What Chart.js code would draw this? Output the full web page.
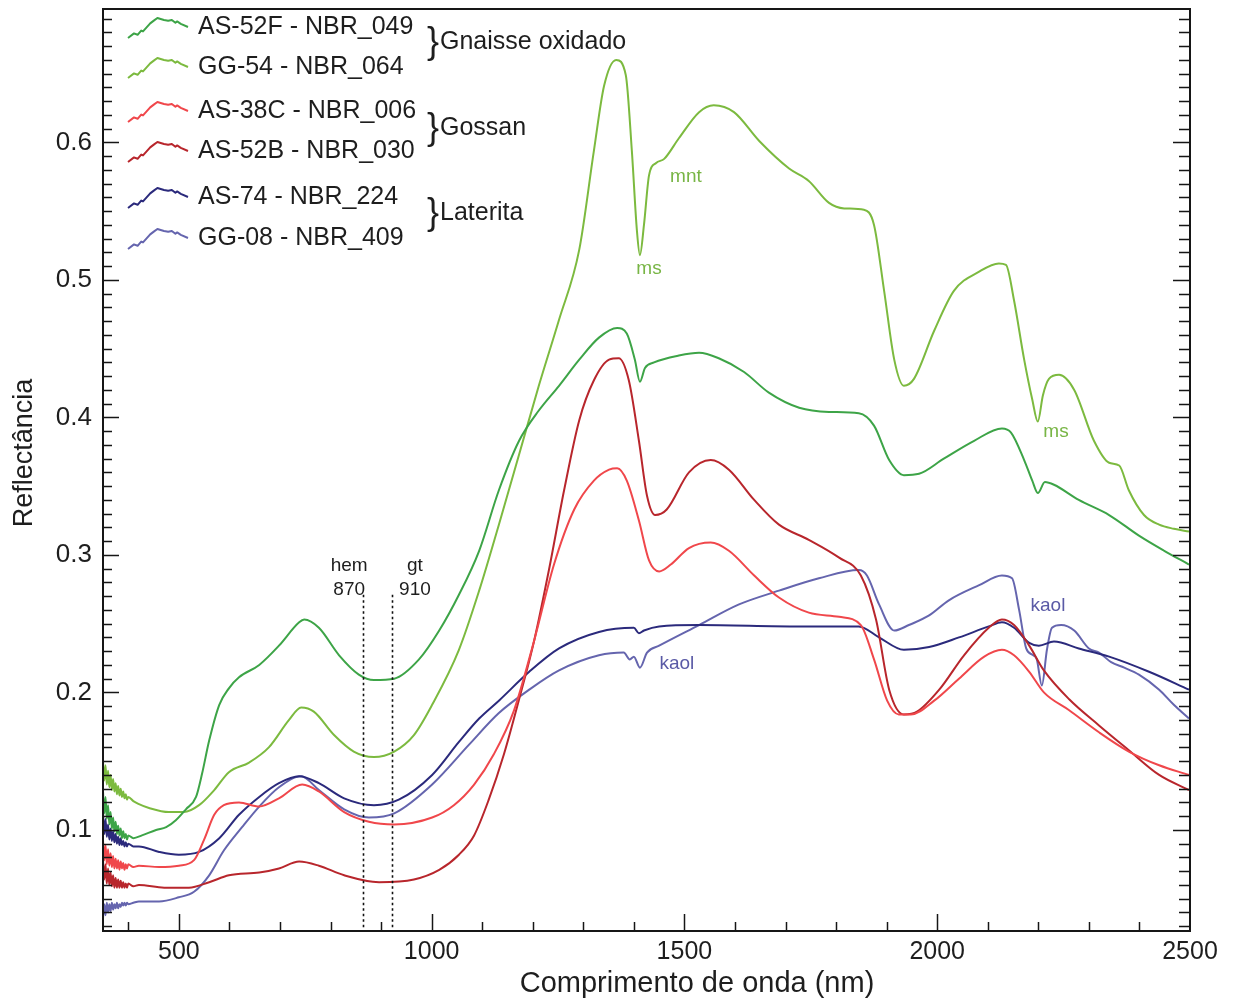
<!DOCTYPE html>
<html><head><meta charset="utf-8">
<script src="https://cdn.jsdelivr.net/npm/chart.js@4.4.0/dist/chart.umd.min.js"></script>
<style>html,body{margin:0;padding:0;background:#fff}#wrap{width:1237px;height:1001px}</style>
</head><body><div id="wrap"><canvas id="c" width="1237" height="1001"></canvas></div>
<script>
// ---------- DATA ----------
const seriesNames = ['AS-52F - NBR_049','GG-54 - NBR_064','AS-38C - NBR_006','AS-52B - NBR_030','AS-74 - NBR_224','GG-08 - NBR_409'];
const groupLabels = ['Gnaisse oxidado','Gossan','Laterita'];
const xTickValues = [500,1000,1500,2000,2500];
const yTickValues = [0.1,0.2,0.3,0.4,0.5,0.6];

// noisy start of every spectrum (350-400 nm, 2.5 nm step)
const startNm = [350,352.5,355,357.5,360,362.5,365,367.5,370,372.5,375,377.5,380,382.5,385,387.5,390,392.5,395,397.5,400,410];

// AS-52F - NBR_049
const as52f_start = [0.128,0.112,0.124,0.108,0.118,0.104,0.113,0.101,0.109,0.099,0.106,0.097,0.103,0.096,0.101,0.094,0.099,0.094,0.097,0.093,0.096,0.094];
const as52f_nm = [427,455,475,494,514,534,546,560,580,599,619,659,698,738,748,777,817,856,886,926,975,1015,1054,1094,1133,1173,1212,1252,1292,1331,1367,1386,1402,1412,1422,1440,1489,1529,1568,1618,1667,1727,1786,1845,1875,1905,1934,1964,2013,2073,2128,2146,2172,2188,2199,2213,2231,2280,2340,2399,2449,2498];
const as52f_r  = [0.096,0.100,0.102,0.107,0.115,0.124,0.141,0.165,0.191,0.203,0.211,0.220,0.234,0.251,0.253,0.247,0.227,0.213,0.209,0.210,0.224,0.245,0.271,0.303,0.347,0.383,0.405,0.423,0.442,0.458,0.465,0.461,0.442,0.426,0.436,0.440,0.445,0.447,0.443,0.433,0.418,0.407,0.404,0.403,0.394,0.369,0.358,0.359,0.370,0.383,0.392,0.389,0.369,0.354,0.345,0.353,0.351,0.340,0.329,0.314,0.303,0.293];

// GG-54 - NBR_064
const gg54_start = [0.150,0.136,0.147,0.133,0.143,0.131,0.140,0.129,0.137,0.128,0.134,0.126,0.132,0.125,0.130,0.124,0.128,0.123,0.126,0.122,0.124,0.121];
const gg54_nm = [420,441,480,510,540,570,599,639,678,718,742,767,807,846,886,926,965,1001,1054,1094,1133,1173,1212,1252,1292,1321,1341,1365,1384,1396,1406,1412,1420,1430,1444,1460,1489,1529,1558,1598,1648,1707,1746,1786,1816,1855,1875,1895,1915,1934,1954,1994,2033,2083,2122,2136,2152,2172,2188,2199,2209,2221,2241,2271,2310,2340,2360,2379,2409,2439,2468,2498];
const gg54_r  = [0.119,0.116,0.113,0.113,0.118,0.129,0.142,0.149,0.160,0.180,0.189,0.186,0.169,0.157,0.153,0.157,0.169,0.191,0.231,0.274,0.322,0.373,0.423,0.471,0.522,0.594,0.641,0.660,0.649,0.594,0.536,0.518,0.540,0.576,0.585,0.588,0.603,0.622,0.627,0.622,0.601,0.581,0.572,0.556,0.552,0.551,0.540,0.492,0.442,0.423,0.428,0.463,0.492,0.506,0.512,0.511,0.485,0.442,0.413,0.397,0.416,0.428,0.431,0.420,0.383,0.367,0.365,0.347,0.329,0.322,0.319,0.317];

// AS-38C - NBR_006
const as38c_start = [0.092,0.078,0.089,0.075,0.086,0.074,0.083,0.073,0.081,0.072,0.079,0.072,0.078,0.071,0.077,0.072,0.076,0.071,0.075,0.072,0.075,0.073];
const as38c_nm = [421,461,500,530,550,570,589,619,659,698,744,777,827,876,926,1001,1044,1084,1123,1163,1203,1242,1282,1321,1351,1367,1386,1410,1430,1450,1473,1509,1552,1588,1638,1687,1746,1806,1849,1875,1901,1924,1948,1994,2043,2093,2128,2152,2182,2211,2261,2320,2379,2439,2498];
const as38c_r  = [0.074,0.073,0.074,0.078,0.093,0.111,0.118,0.120,0.117,0.123,0.133,0.128,0.113,0.106,0.104,0.109,0.118,0.133,0.155,0.187,0.238,0.293,0.333,0.354,0.362,0.363,0.354,0.325,0.296,0.288,0.293,0.305,0.309,0.303,0.285,0.269,0.258,0.255,0.249,0.224,0.194,0.184,0.184,0.194,0.210,0.226,0.231,0.227,0.215,0.200,0.187,0.171,0.157,0.147,0.140];

// AS-52B - NBR_030
const as52b_start = [0.078,0.064,0.075,0.061,0.072,0.060,0.069,0.059,0.067,0.058,0.065,0.058,0.064,0.058,0.063,0.058,0.062,0.058,0.061,0.058,0.061,0.059];
const as52b_nm = [421,471,520,560,599,659,698,738,777,827,896,965,1015,1054,1084,1113,1143,1173,1203,1232,1262,1292,1321,1351,1370,1390,1410,1426,1442,1465,1509,1552,1588,1638,1687,1746,1806,1849,1879,1905,1934,1960,2004,2053,2102,2128,2152,2182,2211,2261,2320,2379,2439,2498];
const as52b_r  = [0.060,0.058,0.058,0.062,0.067,0.069,0.072,0.077,0.074,0.067,0.062,0.064,0.071,0.082,0.096,0.122,0.155,0.195,0.238,0.289,0.347,0.398,0.427,0.442,0.443,0.427,0.383,0.343,0.329,0.333,0.360,0.369,0.362,0.340,0.322,0.311,0.298,0.285,0.253,0.202,0.184,0.186,0.202,0.227,0.247,0.253,0.249,0.234,0.216,0.195,0.176,0.158,0.140,0.129];

// AS-74 - NBR_224
const as74_start = [0.112,0.097,0.108,0.095,0.104,0.093,0.101,0.092,0.099,0.091,0.097,0.090,0.095,0.089,0.094,0.089,0.092,0.088,0.091,0.088,0.090,0.088];
const as74_nm = [421,461,500,540,580,619,659,698,738,777,827,886,935,1001,1054,1094,1133,1193,1252,1331,1400,1410,1420,1450,1529,1727,1845,1885,1934,1984,2043,2102,2128,2152,2182,2201,2231,2280,2340,2419,2498];
const as74_r  = [0.088,0.084,0.082,0.084,0.094,0.111,0.124,0.134,0.139,0.134,0.123,0.118,0.122,0.140,0.164,0.181,0.194,0.215,0.232,0.244,0.247,0.243,0.245,0.248,0.249,0.248,0.248,0.240,0.231,0.233,0.240,0.248,0.251,0.247,0.236,0.234,0.237,0.232,0.226,0.215,0.202];

// GG-08 - NBR_409
const gg08_start = [0.036,0.046,0.038,0.047,0.040,0.046,0.041,0.047,0.042,0.046,0.043,0.047,0.043,0.046,0.044,0.047,0.045,0.047,0.045,0.047,0.046,0.047];
const gg08_nm = [421,461,500,530,560,589,625,659,698,742,777,827,876,926,1001,1074,1133,1193,1252,1331,1380,1392,1400,1412,1426,1450,1529,1608,1687,1766,1845,1861,1885,1915,1944,1984,2023,2083,2128,2148,2162,2176,2190,2197,2207,2217,2227,2245,2271,2300,2320,2344,2370,2399,2439,2468,2498];
const gg08_r  = [0.048,0.048,0.051,0.055,0.067,0.085,0.102,0.117,0.131,0.139,0.129,0.115,0.109,0.112,0.133,0.162,0.185,0.202,0.216,0.227,0.229,0.224,0.226,0.218,0.229,0.234,0.249,0.264,0.274,0.283,0.289,0.285,0.264,0.245,0.249,0.256,0.267,0.278,0.285,0.283,0.260,0.232,0.227,0.224,0.205,0.231,0.247,0.249,0.245,0.232,0.229,0.222,0.218,0.213,0.202,0.191,0.181];

// vertical reference lines (hem / gt), read positions in nm
const refLineNm = [864, 921];
const refLineTop = 0.271;

// text annotations: [text, nm, reflectance, kind]
const annotations = [
  ['hem', 837, 0.292, 'k'], ['870', 837, 0.2745, 'k'],
  ['gt', 967, 0.292, 'k'], ['910', 967, 0.2745, 'k'],
  ['ms', 1430, 0.5084, 'g'], ['mnt', 1503, 0.5753, 'g'], ['ms', 2235, 0.3892, 'g'],
  ['kaol', 1485, 0.2206, 'b'], ['kaol', 2219, 0.2628, 'b']
];

// ---------- STYLE ----------
const colors = ['#3da447','#7cba3f','#f0474b','#b8262c','#2b2a7c','#6565ae'];
const textColor = '#1e1e1e';
const annColors = {k: textColor, g: '#78b545', b: '#5a5aa6'};
const FONT = "'Liberation Sans', Arial, sans-serif";

function pts(startR, nm, r){
  return startNm.map((v,i)=>({x:v, y:startR[i]})).concat(nm.map((v,i)=>({x:v, y:r[i]})));
}
const seriesData = [
  pts(as52f_start, as52f_nm, as52f_r), pts(gg54_start, gg54_nm, gg54_r),
  pts(as38c_start, as38c_nm, as38c_r), pts(as52b_start, as52b_nm, as52b_r),
  pts(as74_start, as74_nm, as74_r), pts(gg08_start, gg08_nm, gg08_r)
];

const ICON = [[0,1],[0.1,0.77],[0.16,0.84],[0.22,0.63],[0.25,0.67],[0.37,0.27],[0.43,0.13],[0.49,0.0],[0.6,0.1],[0.67,0.14],[0.73,0.1],[0.79,0.24],[0.82,0.17],[0.88,0.29],[1,0.45]];

const decor = {
  id: 'decor',
  afterDraw(chart){
    const {ctx, chartArea:a, scales:{x, y}} = chart;
    ctx.save();
    // reference dotted lines
    ctx.strokeStyle = '#111'; ctx.lineWidth = 1.6; ctx.setLineDash([2.5,3]);
    refLineNm.forEach(v=>{
      const px = Math.round(x.getPixelForValue(v))+0.5;
      ctx.beginPath(); ctx.moveTo(px, y.getPixelForValue(refLineTop)); ctx.lineTo(px, a.bottom); ctx.stroke();
    });
    ctx.setLineDash([]);
    // frame
    ctx.strokeStyle = '#161616'; ctx.lineWidth = 2;
    ctx.strokeRect(a.left, a.top, a.right-a.left, a.bottom-a.top);
    // y ticks (left and right, inward)
    ctx.lineWidth = 1.5;
    for (let i=3;i<=69;i++){
      const py = Math.round(y.getPixelForValue(i/100))+0.5;
      if (py < a.top+2 || py > a.bottom-2) continue;
      const major = i%10===0;
      ctx.beginPath();
      ctx.moveTo(a.left, py); ctx.lineTo(a.left+(major?16:9), py);
      ctx.moveTo(a.right, py); ctx.lineTo(a.right-(major?17:11), py);
      ctx.stroke();
    }
    // x ticks (bottom, inward)
    for (let v=400; v<=2400; v+=100){
      const px = Math.round(x.getPixelForValue(v))+0.5;
      const major = v%500===0;
      ctx.beginPath(); ctx.moveTo(px, a.bottom); ctx.lineTo(px, a.bottom-(major?17:9)); ctx.stroke();
    }
    // annotations
    ctx.textAlign = 'center'; ctx.textBaseline = 'middle';
    ctx.font = `19px ${FONT}`;
    annotations.forEach(([t, nm, r, k])=>{
      ctx.fillStyle = annColors[k];
      ctx.fillText(t, x.getPixelForValue(nm), y.getPixelForValue(r));
    });
    // axis titles
    ctx.fillStyle = textColor;
    ctx.font = `29px ${FONT}`;
    ctx.fillText('Comprimento de onda (nm)', 697, 984);
    ctx.save(); ctx.translate(25, 453); ctx.rotate(-Math.PI/2);
    ctx.font = `27px ${FONT}`;
    ctx.fillText('Reflectância', 0, 0); ctx.restore();
    // legend
    const rows = [27, 67, 111, 151, 197, 238];
    ctx.textAlign = 'left';
    ctx.lineWidth = 2; ctx.lineJoin = 'round';
    rows.forEach((ry, i)=>{
      ctx.strokeStyle = colors[i];
      ctx.beginPath();
      ICON.forEach(([u,w], j)=>{ const px = 128+u*60, py = ry-9+w*20; j?ctx.lineTo(px,py):ctx.moveTo(px,py); });
      ctx.stroke();
      ctx.fillStyle = textColor; ctx.font = `25px ${FONT}`;
      ctx.fillText(seriesNames[i], 198, ry);
    });
    const groupY = [42, 128, 213];
    groupLabels.forEach((g, i)=>{
      ctx.font = `36px ${FONT}`;
      ctx.fillText('}', 427, groupY[i]+1);
      ctx.font = `25px ${FONT}`;
      ctx.fillText(g, 440, groupY[i]);
    });
    ctx.restore();
  }
};

function zeroPad(s){ s.paddingTop = 0; s.paddingBottom = 0; s.paddingLeft = 0; s.paddingRight = 0; }

new Chart(document.getElementById('c'), {
  type: 'line',
  data: {
    datasets: seriesData.map((d,i)=>({
      label: seriesNames[i], data: d, borderColor: colors[i], backgroundColor: colors[i],
      borderWidth: 2, pointRadius: 0, fill: false, cubicInterpolationMode: 'monotone'
    }))
  },
  options: {
    responsive: false, animation: false, devicePixelRatio: 1,
    layout: { padding: { top: 9, right: 47, left: 0, bottom: 0 } },
    plugins: { legend: { display: false }, tooltip: { enabled: false } },
    scales: {
      x: {
        type: 'linear', min: 350, max: 2500, position: 'bottom',
        grid: { display: false, drawTicks: false }, border: { display: false },
        afterBuildTicks: s => { s.ticks = xTickValues.map(v=>({value:v})); },
        afterFit: s => { s.height = 70; zeroPad(s); },
        ticks: { color: textColor, padding: 6, maxRotation: 0, autoSkip: false,
          font: { family: FONT, size: 25 },
          callback: v => String(v) }
      },
      y: {
        type: 'linear', min: 0.0265, max: 0.697, position: 'left',
        grid: { display: false, drawTicks: false }, border: { display: false },
        afterBuildTicks: s => { s.ticks = yTickValues.map(v=>({value:v})); },
        afterFit: s => { s.width = 103; zeroPad(s); },
        ticks: { color: textColor, padding: 11, font: { family: FONT, size: 26 },
          callback: v => v.toFixed(1) }
      }
    }
  },
  plugins: [decor]
});
</script></body></html>
